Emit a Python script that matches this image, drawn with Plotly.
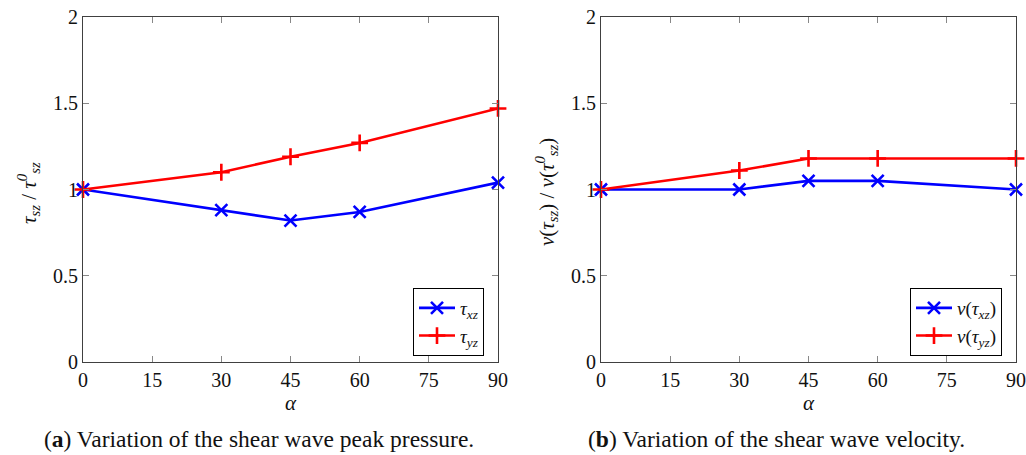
import plotly.graph_objects as go

alpha = [0, 30, 45, 60, 90]
tau_xz = [1.0, 0.88, 0.82, 0.87, 1.04]
tau_yz = [1.0, 1.10, 1.19, 1.27, 1.47]
v_xz = [1.0, 1.0, 1.05, 1.05, 1.0]
v_yz = [1.0, 1.11, 1.18, 1.18, 1.18]

x_ticks = [0, 15, 30, 45, 60, 75, 90]
y_ticks = [0, 0.5, 1, 1.5, 2]
y_tick_labels = ["0", "0.5", "1", "1.5", "2"]

BLUE = "#0000ff"
RED = "#ff0000"
FONT = "Liberation Serif"

W, H = 1026, 455


def px(x):
    return x / W


def py(y):
    return 1 - y / H


fig = go.Figure()


def add_series(x, y, name, color, symbol, xa, ya, legend):
    fig.add_trace(go.Scatter(
        x=x, y=y, name=name, mode="lines+markers",
        line=dict(color=color, width=2.6),
        marker=dict(symbol=symbol, size=12, color=color,
                    line=dict(color=color, width=2.6)),
        xaxis=xa, yaxis=ya, legend=legend, cliponaxis=False,
    ))


add_series(alpha, tau_xz, "<i>τ<sub>xz</sub></i>", BLUE, "x-thin", "x", "y", "legend")
add_series(alpha, tau_yz, "<i>τ<sub>yz</sub></i>", RED, "cross-thin", "x", "y", "legend")
add_series(alpha, v_xz, "<i>v</i>(<i>τ<sub>xz</sub></i>)", BLUE, "x-thin", "x2", "y2", "legend2")
add_series(alpha, v_yz, "<i>v</i>(<i>τ<sub>yz</sub></i>)", RED, "cross-thin", "x2", "y2", "legend2")

ax_common = dict(
    showline=True, linecolor="#404040", linewidth=1.2, mirror="ticks",
    ticks="inside", ticklen=6, tickcolor="#888888", tickwidth=1,
    showgrid=False, zeroline=False, automargin=False,
    ticklabeloverflow="allow",
    tickfont=dict(family=FONT, size=20, color="#111111"),
)

xdom1 = [px(83), px(498)]
xdom2 = [px(601), px(1016)]
ydom = [py(362), py(17)]

leg_common = dict(
    xanchor="right", yanchor="bottom",
    bordercolor="#000000", borderwidth=1, bgcolor="white",
    font=dict(family=FONT, size=19, color="#111111"),
    tracegroupgap=0, itemwidth=36,
)

fig.update_layout(
    width=W, height=H,
    margin=dict(l=0, r=0, t=0, b=0),
    paper_bgcolor="white", plot_bgcolor="white",
    showlegend=True,
    xaxis=dict(domain=xdom1, range=[0, 90], tickvals=x_ticks, anchor="y", **ax_common),
    yaxis=dict(domain=ydom, range=[0, 2], tickvals=y_ticks, ticktext=y_tick_labels, anchor="x", **ax_common),
    xaxis2=dict(domain=xdom2, range=[0, 90], tickvals=x_ticks, anchor="y2", **ax_common),
    yaxis2=dict(domain=ydom, range=[0, 2], tickvals=y_ticks, ticktext=y_tick_labels, anchor="x2", **ax_common),
    legend=dict(x=px(484), y=py(356), **leg_common),
    legend2=dict(x=px(1002), y=py(356), **leg_common),
)

ann_font = dict(family=FONT, size=21, color="#111111")
cap_font = dict(family=FONT, size=23.5, color="#111111")


def ann(x, y, text, font, angle=0):
    return dict(x=px(x), y=py(y), text=text, showarrow=False, textangle=angle,
                xref="paper", yref="paper", xanchor="center", yanchor="middle",
                font=font)


annotations = [
    ann((83 + 498) / 2, 403, "<i>α</i>", ann_font),
    ann((601 + 1016) / 2, 403, "<i>α</i>", ann_font),
    ann(28, 193, "<i>τ<sub>sz</sub></i> / <i>τ<sup>0</sup><sub>sz</sub></i>", ann_font, -90),
    ann(546, 192, "<i>v</i>(<i>τ<sub>sz</sub></i>) / <i>v</i>(<i>τ<sup>0</sup><sub>sz</sub></i>)", ann_font, -90),
    ann(259, 439, "(<b>a</b>) Variation of the shear wave peak pressure.", cap_font),
    ann(776, 439, "(<b>b</b>) Variation of the shear wave velocity.", cap_font),
]
fig.update_layout(annotations=annotations)

fig.write_html("out.html")
